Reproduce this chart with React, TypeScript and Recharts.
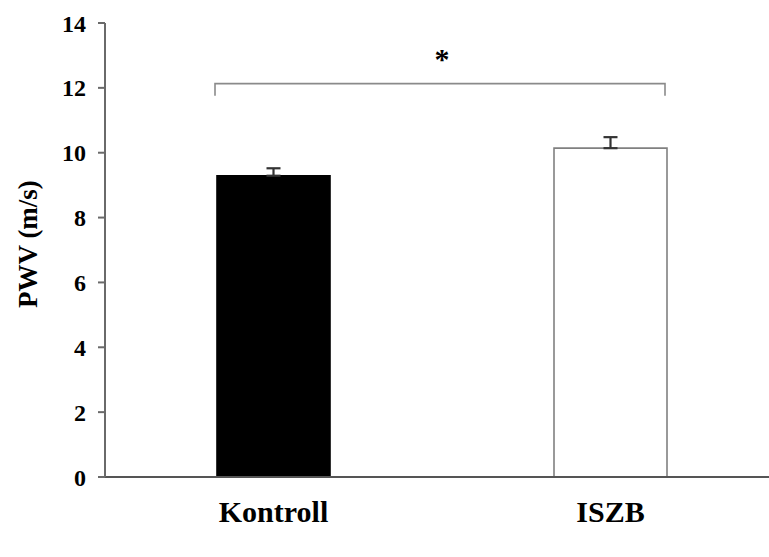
import React from "react";
import {
  BarChart,
  Bar,
  XAxis,
  YAxis,
  Cell,
  ErrorBar,
  ReferenceLine,
} from "recharts";

const groups = ["Kontroll", "ISZB"];
const pwv = [9.29, 10.14];
const sem = [0.23, 0.34];
const yTicks = [0, 2, 4, 6, 8, 10, 12, 14];
const bracketLevel = 12.13;

const data = groups.map((g, i) => ({ group: g, pwv: pwv[i], err: [0, sem[i]] }));

const BAR_SIZE = 113;
const FONT = "'Liberation Serif', 'Times New Roman', serif";

// significance bracket spanning the outer edges of both bars
function Bracket(props: any) {
  const { x1, y1, x2, y2 } = props;
  const half = BAR_SIZE / 2;
  const drop = 12;
  const l = x1 - half - 2;
  const r = x2 + half - 2;
  return (
    <path
      d={`M${l},${y1 + drop} L${l},${y1} L${r},${y2} L${r},${y2 + drop}`}
      fill="none"
      stroke="#8a8a8a"
      strokeWidth={1.6}
    />
  );
}

export default function App() {
  return (
    <div
      style={{
        position: "absolute",
        left: 0,
        top: 0,
        width: 769,
        height: 557,
        overflow: "hidden",
        background: "#fff",
      }}
    >
      <BarChart
        width={779}
        height={557}
        data={data}
        margin={{ top: 23, right: 0, bottom: 50, left: 0 }}
        barSize={BAR_SIZE}
      >
        <XAxis
          dataKey="group"
          tickLine={false}
          axisLine={{ stroke: "#555", strokeWidth: 2.2 }}
          tick={{ fill: "#000", fontSize: 30, fontWeight: 700, fontFamily: FONT }}
          tickMargin={18}
        />
        <YAxis
          width={105}
          domain={[0, 14]}
          ticks={yTicks}
          interval={0}
          tickSize={7}
          tickMargin={12}
          axisLine={{ stroke: "#6a6a6a", strokeWidth: 2 }}
          tickLine={{ stroke: "#6a6a6a", strokeWidth: 2 }}
          tick={{ fill: "#000", fontSize: 24, fontWeight: 700, fontFamily: FONT }}
          label={{
            value: "PWV (m/s)",
            angle: -90,
            position: "center",
            dx: -25,
            dy: -6,
            style: { fill: "#000", fontSize: 27, fontWeight: 700, fontFamily: FONT },
          }}
        />
        <ReferenceLine
          segment={[
            { x: groups[0], y: bracketLevel },
            { x: groups[1], y: bracketLevel },
          ]}
          shape={<Bracket />}
          label={{
            value: "*",
            position: "top",
            offset: 15,
            style: { fill: "#000", fontSize: 30, fontWeight: 700, fontFamily: FONT },
          }}
        />
        <Bar dataKey="pwv" isAnimationActive={false}>
          {data.map((d, i) => (
            <Cell
              key={d.group}
              fill={i === 0 ? "#000" : "#fff"}
              stroke={i === 0 ? "#000" : "#808080"}
              strokeWidth={1.6}
            />
          ))}
          <ErrorBar dataKey="err" width={7} stroke="#333" strokeWidth={2.2} />
        </Bar>
      </BarChart>
    </div>
  );
}
